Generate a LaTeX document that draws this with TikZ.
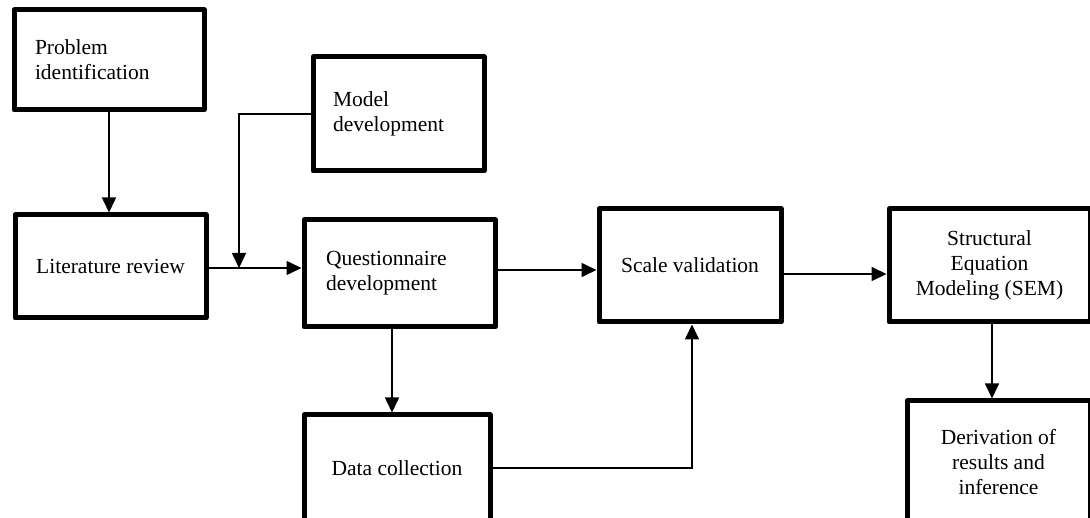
\documentclass[tikz,border=0pt]{standalone}
\usepackage{fontspec}
\setmainfont{Liberation Serif}
\usetikzlibrary{arrows.meta}
\begin{document}
\begin{tikzpicture}[x=1pt,y=-1pt,
  box/.style={draw, line width=5pt, line join=round, inner sep=0pt, font=\fontsize{21.5}{25}\selectfont},
  lbox/.style={box, align=left},
  cbox/.style={box, align=center},
  conn/.style={line width=1.6pt},
  arr/.style={conn, -{Triangle[length=15pt,width=14pt]}}]
\useasboundingbox (0,0) rectangle (1090,518);
\clip (0,0) rectangle (1090,518);
\node[lbox, inner xsep=21pt, text width=148pt, minimum height=100pt] (prob) at (109,60) {Problem\\identification};
\node[lbox, inner xsep=20pt, text width=131pt, minimum height=114pt] (model) at (398.5,114) {Model\\development};
\node[lbox, inner xsep=22pt, text width=147pt, minimum height=107pt] (quest) at (399.5,273.5) {Questionnaire\\development};
\node[cbox, minimum width=191pt, minimum height=103pt] (lit) at (110.5,266.5) {Literature review};
\node[cbox, minimum width=186pt, minimum height=106pt] (data) at (397,468) {Data collection};
\node[cbox, minimum width=182pt, minimum height=113pt] (scale) at (690,265.5) {Scale validation};
\node[cbox, minimum width=201pt, minimum height=113pt] (sem) at (989.5,265.5) {Structural\\Equation\\Modeling (SEM)};
\node[cbox, minimum width=183pt, minimum height=122pt] (der) at (998.5,462) {Derivation of\\results and\\inference};
\coordinate (j) at (239,268);
\draw[arr] (prob.south) -- (prob.south |- lit.north);
\draw[arr] (model.west) -| (j);
\draw[arr] (lit.east |- j) -- (quest.west |- j);
\draw[arr] ([yshift=3.5pt]quest.east) coordinate (qe) -- (qe -| scale.west);
\draw[arr] ([yshift=-8.5pt]scale.east) coordinate (se) -- (se -| sem.west);
\draw[arr] ([xshift=-7.5pt]quest.south) coordinate (qs) -- (qs |- data.north);
\draw[arr] (data.east) -| ([xshift=2pt]scale.south);
\draw[arr] ([xshift=2.5pt]sem.south) coordinate (ss) -- (ss |- der.north);
\end{tikzpicture}
\end{document}
